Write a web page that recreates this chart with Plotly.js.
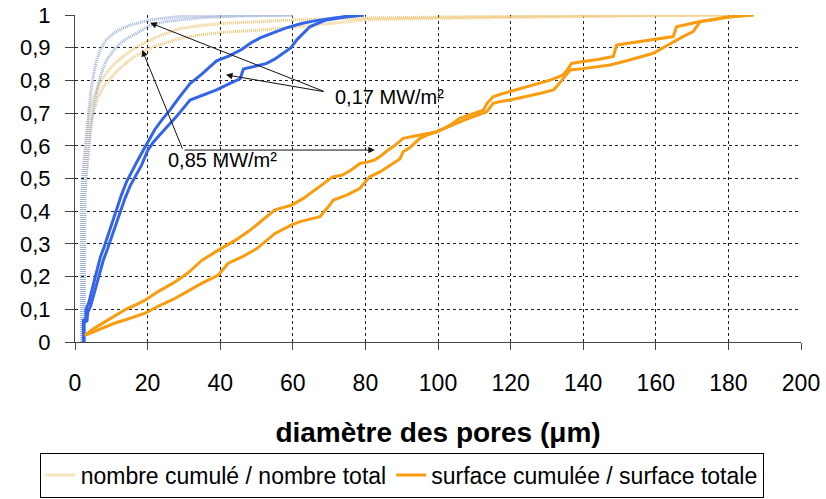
<!DOCTYPE html>
<html>
<head>
<meta charset="utf-8">
<script src="https://cdn.plot.ly/plotly-3.0.1.min.js"></script>
<style>html,body{margin:0;padding:0;background:#fff;}#chart{width:826px;height:499px;}</style>
</head>
<body>
<div id="chart"></div>
<script>
// ---- data ----
// nombre cumulé / nombre total, 0,85 MW/m² (light orange, dotted)
const nbOrangeAx = [2.0, 2.2, 2.8, 3.4, 4.1, 5.0, 6.0, 7.2, 8.7, 10.8, 13.3, 16, 18.8, 23, 28.9, 35, 42, 51, 65, 80, 100, 130, 160, 180];
const nbOrangeAy = [0, 0.45, 0.58, 0.66, 0.709, 0.745, 0.771, 0.80, 0.822, 0.85, 0.873, 0.895, 0.913, 0.935, 0.959, 0.968, 0.975, 0.98, 0.987, 0.991, 0.994, 0.997, 0.999, 1];
const nbOrangeBx = [2.3, 2.6, 3.3, 4.2, 5.0, 6.0, 7.8, 10, 12.4, 15, 17.9, 22, 28.9, 35, 42, 51, 65, 80, 100, 130, 160, 180];
const nbOrangeBy = [0, 0.45, 0.58, 0.66, 0.70, 0.74, 0.781, 0.81, 0.837, 0.862, 0.883, 0.905, 0.928, 0.94, 0.948, 0.954, 0.968, 0.985, 0.99, 0.995, 0.998, 1];
// nombre cumulé / nombre total, 0,17 MW/m² (light blue, dotted)
const nbBlueAx = [1.8, 1.8, 2.2, 2.75, 3.2, 3.7, 4.3, 5.0, 5.8, 6.9, 8.5, 10.6, 12.8, 15.2, 18, 20.7, 25, 28.9, 35, 45, 60];
const nbBlueAy = [0, 0.44, 0.52, 0.587, 0.65, 0.709, 0.76, 0.811, 0.855, 0.893, 0.922, 0.944, 0.958, 0.969, 0.978, 0.985, 0.991, 0.995, 0.997, 0.999, 1];
const nbBlueBx = [2.5, 2.75, 3.2, 3.7, 4.3, 5.0, 5.7, 6.4, 7.5, 8.7, 10.5, 12.4, 14.5, 17, 20.7, 25, 28.9, 35, 45, 60];
const nbBlueBy = [0, 0.444, 0.52, 0.587, 0.65, 0.709, 0.75, 0.79, 0.83, 0.862, 0.89, 0.913, 0.93, 0.944, 0.969, 0.98, 0.985, 0.992, 0.997, 1];
// surface cumulée / surface totale, 0,17 MW/m² (blue, solid)
const sfBlueAx = [2.3, 2.3, 3.0, 3.0, 3.8, 4.2, 5.0, 5.6, 6.3, 7.0, 8.0, 9.2, 10.3, 11.5, 12.8, 14.2, 15.5, 17.0, 18.5, 20.0, 22.0, 24.0, 26.2, 28.5, 31.7, 35.0, 39.0, 42.5, 46.0, 48.5, 51.0, 54.2, 58.0, 62.4, 66.0, 71.0, 75.0, 79.5];
const sfBlueAy = [0, 0.067, 0.07, 0.10, 0.12, 0.14, 0.17, 0.20, 0.23, 0.26, 0.29, 0.33, 0.37, 0.41, 0.45, 0.49, 0.52, 0.55, 0.58, 0.61, 0.65, 0.68, 0.71, 0.745, 0.79, 0.82, 0.86, 0.875, 0.895, 0.915, 0.93, 0.944, 0.96, 0.974, 0.982, 0.99, 0.996, 1.0];
const sfBlueBx = [2.5, 2.5, 3.3, 3.5, 4.3, 4.8, 5.6, 6.2, 7.0, 7.8, 8.8, 10.0, 11.2, 12.5, 13.8, 15.3, 16.8, 18.3, 20.0, 21.5, 23.5, 25.2, 28.0, 31.7, 35.0, 39.0, 42.7, 45.5, 46.4, 49.0, 52.8, 55.0, 57.4, 59.5, 61.1, 63.0, 64.7, 67.0, 69.3, 74.0, 79.5];
const sfBlueBy = [0, 0.06, 0.065, 0.09, 0.11, 0.13, 0.16, 0.19, 0.22, 0.25, 0.28, 0.32, 0.36, 0.40, 0.44, 0.48, 0.51, 0.54, 0.585, 0.61, 0.635, 0.655, 0.69, 0.74, 0.755, 0.771, 0.791, 0.805, 0.835, 0.842, 0.852, 0.865, 0.883, 0.90, 0.924, 0.945, 0.964, 0.975, 0.985, 0.993, 1.0];
// surface cumulée / surface totale, 0,85 MW/m² (orange, solid)
const sfOrangeAx = [2.7, 5, 8, 11, 14, 17, 19.3, 23, 27, 31, 35, 39.5, 44, 48, 52, 55.1, 57, 59.7, 63, 66, 69, 71, 73.5, 76, 78.5, 80.5, 82.6, 84, 86, 88, 90.4, 93, 95, 97.5, 99.6, 102, 104, 106, 109, 112.5, 113.5, 115.2, 117, 119.8, 123, 127, 130.9, 133, 134.5, 135.5, 136.8, 140, 144, 148.3, 149.2, 152, 156, 161.2, 164.8, 165.7, 168, 172.2, 176, 179.5, 183, 186.9];
const sfOrangeAy = [0.02, 0.04, 0.06, 0.08, 0.10, 0.115, 0.128, 0.155, 0.18, 0.21, 0.25, 0.281, 0.31, 0.34, 0.375, 0.404, 0.41, 0.419, 0.44, 0.465, 0.49, 0.505, 0.51, 0.525, 0.546, 0.55, 0.557, 0.567, 0.585, 0.60, 0.623, 0.628, 0.633, 0.638, 0.643, 0.655, 0.668, 0.684, 0.695, 0.709, 0.73, 0.75, 0.757, 0.766, 0.776, 0.787, 0.801, 0.81, 0.817, 0.83, 0.852, 0.858, 0.864, 0.873, 0.908, 0.913, 0.92, 0.929, 0.934, 0.964, 0.97, 0.98, 0.986, 0.993, 0.997, 1];
const sfOrangeBx = [2.7, 5, 8, 11, 14, 17, 19.3, 23, 27, 31, 35, 39.5, 42.2, 46, 50, 55.1, 59.7, 62, 65, 67.5, 69.5, 71.2, 75, 78.5, 80, 81.3, 84, 87.7, 89.5, 90.4, 92.3, 95, 97, 99.6, 103, 107, 110, 113.4, 115.2, 117, 119.8, 124, 128, 131.8, 133, 134.5, 136.4, 140, 144, 147.4, 152, 156, 159.3, 162, 165.7, 168, 170.3, 172.2, 176, 179.5, 183, 186.9];
const sfOrangeBy = [0.02, 0.03, 0.045, 0.058, 0.068, 0.078, 0.088, 0.11, 0.13, 0.155, 0.18, 0.205, 0.241, 0.26, 0.285, 0.332, 0.358, 0.368, 0.375, 0.383, 0.41, 0.434, 0.45, 0.47, 0.49, 0.506, 0.52, 0.546, 0.56, 0.582, 0.595, 0.623, 0.633, 0.643, 0.66, 0.678, 0.69, 0.704, 0.73, 0.735, 0.74, 0.75, 0.76, 0.771, 0.785, 0.806, 0.832, 0.836, 0.842, 0.847, 0.86, 0.872, 0.883, 0.9, 0.924, 0.937, 0.949, 0.98, 0.986, 0.993, 0.997, 1];

const legendNames = ['nombre cumulé / nombre total', 'surface cumulée / surface totale'];
const labelLow = '0,17 MW/m²';
const labelHigh = '0,85 MW/m²';

// ---- styles ----
const cOrangeDot = '#f0c77a', cBlueDot = '#9fb2da', cBlue = '#3465e8', cOrange = '#f89c10';
const dotLine = (c) => ({color: c, width: 3, dash: '1px,1px'});

const traces = [
  {x: nbOrangeAx, y: nbOrangeAy, name: legendNames[0], mode: 'lines', line: dotLine(cOrangeDot), showlegend: true},
  {x: nbOrangeBx, y: nbOrangeBy, name: legendNames[0], mode: 'lines', line: dotLine(cOrangeDot), showlegend: false},
  {x: nbBlueAx, y: nbBlueAy, mode: 'lines', line: dotLine(cBlueDot), showlegend: false},
  {x: nbBlueBx, y: nbBlueBy, mode: 'lines', line: dotLine(cBlueDot), showlegend: false},
  {x: sfBlueAx, y: sfBlueAy, mode: 'lines', line: {color: cBlue, width: 3}, showlegend: false},
  {x: sfBlueBx, y: sfBlueBy, mode: 'lines', line: {color: cBlue, width: 3}, showlegend: false},
  {x: sfOrangeAx, y: sfOrangeAy, name: legendNames[1], mode: 'lines', line: {color: cOrange, width: 3}, showlegend: true},
  {x: sfOrangeBx, y: sfOrangeBy, name: legendNames[1], mode: 'lines', line: {color: cOrange, width: 3}, showlegend: false}
];

function arrow(x, y, ax, ay) {
  return {x: x, y: y, ax: ax, ay: ay, xref: 'x', yref: 'y', axref: 'x', ayref: 'y',
    text: '', showarrow: true, arrowhead: 2, arrowsize: 1.3, arrowwidth: 1, arrowcolor: '#111'};
}

const layout = {
  width: 826, height: 499,
  margin: {l: 75, r: 25, t: 15, b: 157},
  paper_bgcolor: '#fff', plot_bgcolor: '#fff',
  separators: ', ',
  font: {family: 'Liberation Sans, Arial, sans-serif', color: '#000'},
  xaxis: {
    range: [0, 200], dtick: 20, tick0: 0, automargin: false,
    showgrid: true, gridcolor: '#222', gridwidth: 1, griddash: '3px,3px',
    zeroline: false, showline: true, linecolor: '#444', linewidth: 1,
    ticks: 'outside', ticklen: 7, tickcolor: '#444', ticklabelstandoff: 13,
    tickfont: {family: 'Liberation Sans, Arial', size: 23, color: '#000'},
    title: {text: 'diamètre des pores (μm)', font: {family: 'Liberation Sans, Arial', size: 28, color: '#000', weight: 'bold'}, standoff: 27}
  },
  yaxis: {
    range: [0, 1], dtick: 0.1, tick0: 0, automargin: false,
    showgrid: true, gridcolor: '#222', gridwidth: 1, griddash: '3px,3px',
    zeroline: false, showline: true, linecolor: '#444', linewidth: 1,
    ticks: 'outside', ticklen: 9, tickcolor: '#444', ticklabelstandoff: 10,
    tickfont: {family: 'Liberation Sans, Arial', size: 22, color: '#000'}
  },
  legend: {
    orientation: 'h', xref: 'container', yref: 'container',
    x: 0.048, y: 0.093, xanchor: 'left', yanchor: 'top',
    bordercolor: '#000', borderwidth: 1, bgcolor: '#fff',
    font: {family: 'Liberation Sans, Arial', size: 23, color: '#000'},
    itemwidth: 30, tracegroupgap: 0
  },
  annotations: [
    arrow(20.7, 0.976, 68.9, 0.765),
    arrow(41.6, 0.817, 68.9, 0.765),
    arrow(18.5, 0.893, 29.75, 0.587),
    arrow(82.6, 0.587, 29.75, 0.587),
    {x: 86.5, y: 0.749, xref: 'x', yref: 'y', text: labelLow, showarrow: false, font: {size: 20, family: 'Liberation Sans, Arial', color: '#000'}},
    {x: 40.5, y: 0.557, xref: 'x', yref: 'y', text: labelHigh, showarrow: false, font: {size: 20, family: 'Liberation Sans, Arial', color: '#000'}}
  ]
};

Plotly.newPlot('chart', traces, layout, {displayModeBar: false, staticPlot: true});
</script>
</body>
</html>
